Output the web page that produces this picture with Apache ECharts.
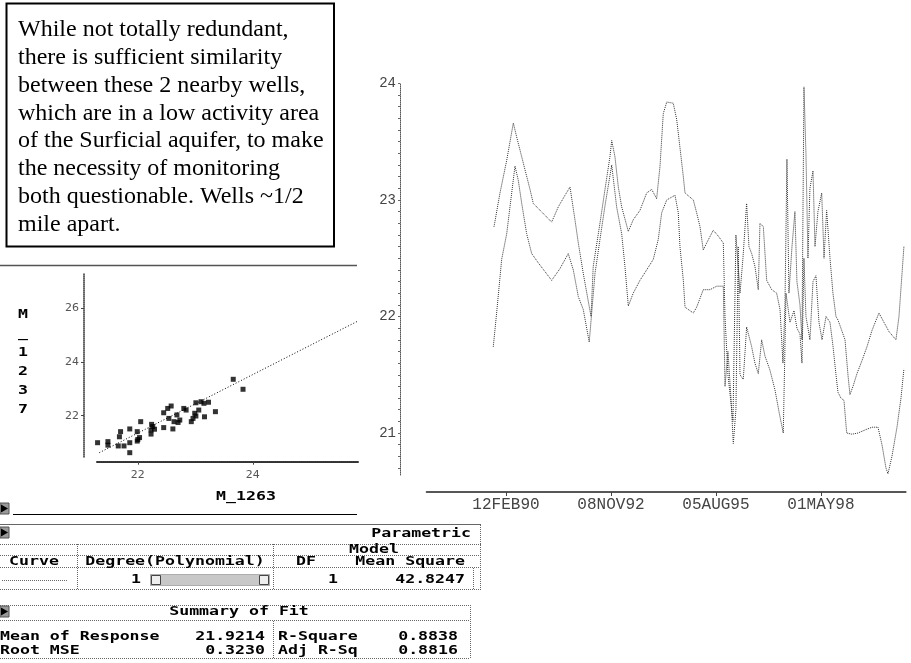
<!DOCTYPE html>
<html>
<head>
<meta charset="utf-8">
<script src="https://cdn.jsdelivr.net/npm/echarts@6/dist/echarts.min.js"></script>
<style>
  html, body { margin: 0; padding: 0; background: #fff; }
  #chart { width: 911px; height: 663px; }
</style>
</head>
<body>
<div id="chart"></div>
<script>
// Water levels (ft) of wells M_1263 and M_1237.
// Dates are SAS day numbers (days since 01JAN1960).
const m1263Days = [10886, 10943, 11007, 11070, 11102, 11133, 11181, 11229, 11260, 11435, 11498, 11562, 11610, 11657, 11689, 11736, 11810, 11831, 11895, 11943, 11990, 12007, 12038, 12070, 12102, 12165, 12212, 12276, 12340, 12388, 12435, 12467, 12498, 12531, 12593, 12626, 12657, 12689, 12705, 12784, 12816, 12848, 12879, 12911, 12974, 13022, 13070, 13086, 13114, 13162, 13190, 13229, 13257, 13292, 13314, 13340, 13371, 13403, 13419, 13451, 13483, 13531, 13578, 13610, 13638, 13657, 13676, 13695, 13724, 13752, 13771, 13800, 13819, 13838, 13857, 13876, 13895, 13924, 13943, 13971, 14007, 14029, 14054, 14086, 14114, 14143, 14162, 14190, 14229, 14257, 14276, 14305, 14343, 14390, 14438, 14486, 14552, 14600, 14648, 14714, 14743, 14790];
const m1263Level = [22.77, 23.06, 23.34, 23.66, 23.54, 23.43, 23.26, 23.09, 22.97, 22.81, 22.94, 23.04, 23.11, 22.83, 22.63, 22.37, 22.00, 22.43, 22.80, 23.09, 23.37, 23.51, 23.37, 23.11, 22.94, 22.73, 22.83, 22.91, 23.06, 23.09, 23.01, 23.29, 23.74, 23.84, 23.83, 23.69, 23.45, 23.20, 23.06, 23.00, 22.89, 22.77, 22.57, 22.63, 22.74, 22.69, 22.63, 22.00, 21.50, 21.10, 22.70, 22.20, 22.50, 22.97, 22.60, 22.54, 22.43, 22.23, 22.80, 22.77, 22.31, 22.23, 22.20, 22.06, 21.60, 22.10, 23.35, 22.20, 22.60, 22.90, 22.30, 22.10, 21.80, 23.97, 23.40, 22.50, 23.10, 23.25, 22.60, 22.90, 23.06, 22.50, 22.91, 22.50, 22.20, 22.00, 21.97, 21.90, 21.80, 21.50, 21.33, 21.40, 21.51, 21.62, 21.74, 21.88, 22.03, 21.95, 21.87, 21.80, 22.00, 22.60];

const m1237Days = [10879, 10911, 10959, 11007, 11038, 11086, 11117, 11150, 11197, 11245, 11308, 11435, 11514, 11593, 11641, 11689, 11736, 11793, 11848, 11895, 11943, 12007, 12054, 12102, 12133, 12165, 12212, 12276, 12340, 12403, 12450, 12483, 12531, 12610, 12641, 12657, 12689, 12705, 12784, 12816, 12879, 12943, 13007, 13070, 13086, 13114, 13143, 13165, 13190, 13212, 13229, 13260, 13292, 13340, 13371, 13403, 13435, 13467, 13514, 13562, 13603, 13641, 13667, 13705, 13743, 13771, 13800, 13819, 13838, 13857, 13895, 13924, 13952, 13981, 14010, 14048, 14086, 14114, 14143, 14162, 14190, 14219, 14245, 14295, 14352, 14429, 14486, 14543, 14581, 14619, 14638, 14676, 14724, 14762, 14790];
const m1237Level = [21.74, 22.03, 22.49, 22.71, 22.94, 23.29, 23.17, 22.97, 22.71, 22.54, 22.46, 22.31, 22.41, 22.54, 22.40, 22.17, 22.06, 21.78, 22.37, 22.66, 22.95, 23.30, 22.94, 22.71, 22.43, 22.09, 22.20, 22.31, 22.40, 22.49, 22.66, 22.89, 23.00, 23.04, 22.89, 22.60, 22.31, 22.08, 22.03, 22.08, 22.23, 22.23, 22.26, 22.26, 21.40, 21.70, 21.30, 20.91, 21.20, 22.60, 21.50, 21.46, 21.91, 21.74, 21.60, 21.51, 21.80, 21.66, 21.54, 21.37, 21.17, 21.00, 22.20, 21.95, 22.05, 21.90, 21.85, 21.60, 22.50, 22.00, 21.80, 22.30, 22.35, 21.95, 21.80, 22.00, 21.95, 21.75, 21.50, 21.35, 21.30, 21.28, 21.00, 20.99, 21.00, 21.03, 21.05, 21.05, 20.90, 20.70, 20.65, 20.80, 21.05, 21.30, 21.55];

// Paired observations for the bivariate fit (M_1237 by M_1263)
const pairM1263 = [21.30, 21.48, 21.48, 21.66, 21.76, 21.86, 21.86, 21.68, 21.70, 21.86, 21.99, 22.03, 21.99, 22.05, 22.23, 22.23, 22.29, 22.24, 22.45, 22.61, 22.45, 22.52, 22.58, 22.54, 22.63, 22.70, 22.73, 22.68, 22.80, 22.84, 22.93, 22.96, 22.99, 23.01, 23.06, 23.01, 23.10, 23.15, 23.23, 23.16, 23.35, 23.66, 23.83, 22.26, 22.00];
const pairM1237 = [21.00, 21.04, 20.91, 20.88, 20.88, 20.63, 21.00, 21.22, 21.41, 21.51, 21.06, 21.19, 21.41, 21.78, 21.32, 21.47, 21.50, 21.68, 21.56, 21.51, 22.11, 22.27, 22.36, 21.90, 21.78, 21.75, 21.84, 22.03, 22.27, 22.21, 21.78, 21.90, 22.09, 21.99, 22.21, 22.48, 22.52, 22.46, 22.50, 21.96, 22.15, 23.35, 22.98, 21.60, 21.12];

// Degree-1 polynomial fit, drawn between its two end points
const fitLineX = [21.33, 25.83];
const fitLineY = [20.63, 25.51];

// Axis ticks
const tsDateTicks = [11000, 12000, 13000, 14000];
const tsLevelTicks = [21, 22, 23, 24];
const fitXTicks = [22, 24];
const fitYTicks = [22, 24, 26];

// Annotation
const noteLines = [
  'While not totally redundant,',
  'there is sufficient similarity',
  'between these 2 nearby wells,',
  'which are in a low activity area',
  'of the Surficial aquifer, to make',
  'the necessity of monitoring',
  'both questionable. Wells ~1/2',
  'mile apart.'
];

// Fit report values
const fitReport = {
  degree: '1', modelDF: '1', meanSquare: '42.8247',
  meanResponse: '21.9214', rootMSE: '0.3230', rSquare: '0.8838', adjRSq: '0.8816'
};

const MONTHS = ['JAN','FEB','MAR','APR','MAY','JUN','JUL','AUG','SEP','OCT','NOV','DEC'];
function sasDateLabel(d) {
  const dt = new Date(Date.UTC(1960, 0, 1) + Math.round(d) * 86400000);
  const dd = String(dt.getUTCDate()).padStart(2, '0');
  const yy = String(dt.getUTCFullYear() % 100).padStart(2, '0');
  return dd + MONTHS[dt.getUTCMonth()] + yy;
}

// small tick marks every 0.1 ft along the level axis
const minorLevelTicks = [];
for (let i = 207; i <= 240; i++) minorLevelTicks.push(i / 10);

const zip = (a, b) => a.map((v, i) => [v, b[i]]);

const MONO = "'DejaVu Sans Mono', monospace";
const SX = 1.38;
function reportText(str, x, y, align) {
  return {
    type: 'text', x: x, y: y, scaleX: SX, silent: true,
    style: {
      text: str, fontFamily: MONO, fontSize: 12, fontWeight: 'bold', fill: '#000',
      align: align || 'left', verticalAlign: 'middle',
      textAlign: align || 'left', textVerticalAlign: 'middle'
    }
  };
}
function rule(x1, y1, x2, y2, color, width, dash) {
  const st = { stroke: color, lineWidth: width };
  if (dash) st.lineDash = dash;
  return { type: 'line', silent: true, shape: { x1: x1, y1: y1, x2: x2, y2: y2 }, style: st };
}
function dotted(x1, y1, x2, y2) { return rule(x1, y1, x2, y2, '#666', 1, [1, 1]); }
function disclosure(y) {
  return [
    { type: 'rect', silent: true, shape: { x: 0, y: y, width: 9, height: 11 }, style: { fill: '#999', stroke: '#555', lineWidth: 1 } },
    { type: 'polygon', silent: true, shape: { points: [[1, y + 1.5], [8, y + 5.5], [1, y + 9.5]] }, style: { fill: '#000' } }
  ];
}

const graphics = [];
// annotation box
graphics.push({ type: 'rect', silent: true, shape: { x: 6.5, y: 3.5, width: 327.5, height: 243 }, style: { fill: '#fff', stroke: '#000', lineWidth: 2 } });
graphics.push({
  type: 'text', x: 18, y: 16, silent: true,
  style: { text: noteLines.join('\n'), fontFamily: "'Liberation Serif', serif", fontSize: 24, lineHeight: 27.8, fill: '#000', align: 'left', verticalAlign: 'top', textAlign: 'left', textVerticalAlign: 'top' }
});
// frame rules
graphics.push(rule(0, 265.5, 357, 265.5, '#555', 1.5));
graphics.push(rule(13, 514.5, 357, 514.5, '#000', 1));
graphics.push(rule(0, 524.5, 481, 524.5, '#666', 1));
graphics.push(...disclosure(503), ...disclosure(527), ...disclosure(606));

// axis names of the bivariate plot
graphics.push(reportText('M_1263', 246, 497, 'center'));
['M', '_', '1', '2', '3', '7'].forEach((c, i) => {
  graphics.push(reportText(c, 23, 315 + i * 19, 'center'));
});

// Parametric model table
graphics.push(reportText('Parametric', 471, 534, 'right'));
[544.5, 555.5, 567.5, 589.5].forEach(y => graphics.push(dotted(0, y, 481, y)));
graphics.push(dotted(480.5, 525, 480.5, 590));
graphics.push(dotted(77.5, 544, 77.5, 590));
graphics.push(dotted(273.5, 544, 273.5, 590));
graphics.push(dotted(473.5, 568, 473.5, 590));
graphics.push(reportText('Model', 374, 550, 'center'));
graphics.push(reportText('Curve', 34, 561.5, 'center'));
graphics.push(reportText('Degree(Polynomial)', 175, 561.5, 'center'));
graphics.push(reportText('DF', 306, 561.5, 'center'));
graphics.push(reportText('Mean Square', 465, 561.5, 'right'));
graphics.push(dotted(2, 580.5, 68, 580.5));
graphics.push(reportText(fitReport.degree, 141, 580, 'right'));
graphics.push({ type: 'rect', silent: true, shape: { x: 150.5, y: 574.5, width: 119, height: 11 }, style: { fill: '#c8c8c8', stroke: '#777', lineWidth: 1, lineDash: [1, 1] } });
graphics.push({ type: 'rect', silent: true, shape: { x: 151.5, y: 575.5, width: 9, height: 9 }, style: { fill: '#eee', stroke: '#444', lineWidth: 1 } });
graphics.push({ type: 'rect', silent: true, shape: { x: 259.5, y: 575.5, width: 9, height: 9 }, style: { fill: '#eee', stroke: '#444', lineWidth: 1 } });
graphics.push(reportText(fitReport.modelDF, 333, 580, 'center'));
graphics.push(reportText(fitReport.meanSquare, 465, 580, 'right'));

// Summary of Fit table
graphics.push(rule(0, 605.5, 470, 605.5, '#666', 1, [1, 1]));
graphics.push(dotted(470.5, 605, 470.5, 658));
graphics.push(dotted(0, 620.5, 470, 620.5));
graphics.push(dotted(0, 658.5, 470, 658.5));
graphics.push(dotted(273.5, 621, 273.5, 658));
graphics.push(reportText('Summary of Fit', 239, 612, 'center'));
graphics.push(reportText('Mean of Response', 0, 636.5, 'left'));
graphics.push(reportText(fitReport.meanResponse, 265, 636.5, 'right'));
graphics.push(reportText('R-Square', 278, 636.5, 'left'));
graphics.push(reportText(fitReport.rSquare, 458, 636.5, 'right'));
graphics.push(reportText('Root MSE', 0, 651, 'left'));
graphics.push(reportText(fitReport.rootMSE, 265, 651, 'right'));
graphics.push(reportText('Adj R-Sq', 278, 651, 'left'));
graphics.push(reportText(fitReport.adjRSq, 458, 651, 'right'));

const chart = echarts.init(document.getElementById('chart'), null, { renderer: 'canvas' });

const option = {
  animation: false,
  backgroundColor: '#fff',
  grid: [
    { left: 97, right: 553, top: 273, bottom: 206, containLabel: false, outerBoundsMode: 'none' },
    { left: 426.7, right: 5.4, top: 83.4, bottom: 188, containLabel: false, outerBoundsMode: 'none' }
  ],
  xAxis: [
    {
      type: 'value', gridIndex: 0, min: 21.29, max: 25.83, offset: 4.7,
      axisLine: { show: true, lineStyle: { color: '#333', width: 2, type: [1, 1] } },
      axisTick: { show: true, customValues: fitXTicks, length: 3, lineStyle: { color: '#444' } },
      axisLabel: { customValues: fitXTicks, fontFamily: "'DejaVu Sans', sans-serif", fontSize: 11, color: '#555', margin: 8 },
      splitLine: { show: false }
    },
    {
      type: 'value', gridIndex: 1, min: 10245, max: 14806, offset: 17,
      axisLine: { show: true, lineStyle: { color: '#555', width: 2, type: [1, 1] } },
      axisTick: { show: true, customValues: tsDateTicks, length: 4, lineStyle: { color: '#444' } },
      axisLabel: { customValues: tsDateTicks, formatter: sasDateLabel, fontFamily: "'Liberation Mono', monospace", fontSize: 16, color: '#444', margin: 5 },
      splitLine: { show: false }
    }
  ],
  yAxis: [
    {
      type: 'value', gridIndex: 0, min: 20.47, max: 27.29, offset: 13,
      axisLine: { show: true, lineStyle: { color: '#333', width: 1.5, type: [1, 1] } },
      axisTick: { show: true, customValues: fitYTicks, length: 3, lineStyle: { color: '#444' } },
      axisLabel: { customValues: fitYTicks, fontFamily: "'DejaVu Sans', sans-serif", fontSize: 11, color: '#555', margin: 5 },
      splitLine: { show: false }
    },
    {
      type: 'value', gridIndex: 1, min: 20.64, max: 24, offset: 26.7,
      axisLine: { show: true, lineStyle: { color: '#555', width: 1, type: [1, 1] } },
      axisTick: { show: true, customValues: minorLevelTicks, length: 2, lineStyle: { color: '#666' } },
      axisLabel: { customValues: tsLevelTicks, fontFamily: "'Liberation Mono', monospace", fontSize: 14, color: '#444', margin: 4 },
      splitLine: { show: false }
    },
    {
      type: 'value', gridIndex: 1, min: 20.64, max: 24, offset: 26.7,
      axisLine: { show: false },
      axisTick: { show: true, customValues: tsLevelTicks, length: 4, lineStyle: { color: '#444' } },
      axisLabel: { show: false },
      splitLine: { show: false }
    }
  ],
  series: [
    {
      type: 'scatter', xAxisIndex: 0, yAxisIndex: 0,
      data: zip(pairM1263, pairM1237),
      symbol: 'rect', symbolSize: 5,
      itemStyle: { color: '#000' }
    },
    {
      type: 'line', xAxisIndex: 0, yAxisIndex: 0,
      data: zip(fitLineX, fitLineY),
      symbol: 'none', silent: true,
      lineStyle: { color: '#000', width: 1, type: [1, 2] }
    },
    {
      name: 'M_1263', type: 'line', xAxisIndex: 1, yAxisIndex: 1,
      data: zip(m1263Days, m1263Level),
      symbol: 'none', silent: true,
      lineStyle: { color: '#333', width: 1, type: [1, 1] }
    },
    {
      name: 'M_1237', type: 'line', xAxisIndex: 1, yAxisIndex: 1,
      data: zip(m1237Days, m1237Level),
      symbol: 'none', silent: true,
      lineStyle: { color: '#333', width: 1, type: [1, 1] }
    }
  ],
  graphic: graphics
};

chart.setOption(option);
</script>
</body>
</html>
